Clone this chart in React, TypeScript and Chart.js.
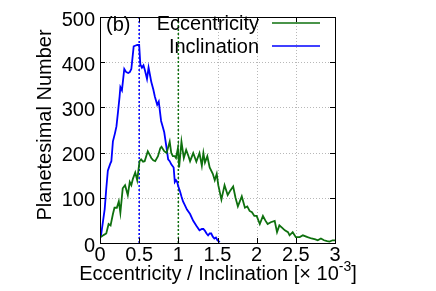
import React, { useEffect, useRef } from "react";
import { Chart, registerables } from "chart.js";

Chart.register(...registerables);

// Histogram of eccentricity (x 1e-3)
const eccX = [0.01,0.05,0.08,0.11,0.135,0.165,0.185,0.215,0.24,0.26,0.29,0.32,0.355,0.38,0.40,0.42,0.45,0.475,0.505,0.525,0.55,0.57,0.61,0.635,0.655,0.68,0.705,0.74,0.77,0.785,0.82,0.85,0.89,0.91,0.93,0.955,0.97,0.995,1.01,1.04,1.07,1.10,1.13,1.15,1.19,1.23,1.27,1.30,1.32,1.34,1.37,1.40,1.44,1.465,1.49,1.51,1.55,1.59,1.63,1.66,1.70,1.73,1.76,1.81,1.85,1.88,1.91,1.94,1.97,2.00,2.04,2.08,2.11,2.14,2.18,2.23,2.26,2.29,2.33,2.36,2.40,2.42,2.46,2.50,2.55,2.59,2.65,2.70,2.75,2.78,2.82,2.86,2.90,2.93,2.97,3.0];
const eccY = [13,18,21,42,39,64,78,78,92,67,121,128,106,135,128,142,156,139,181,185,180,181,203,195,188,183,181,192,210,213,203,199,224,199,192,192,188,210,167,224,188,206,192,181,199,180,199,171,199,178,192,167,153,139,153,128,96,128,106,115,125,100,81,103,78,81,71,68,60,60,42,60,50,42,46,49,24,39,33,28,24,17,24,13,13,17,13,10,8,6,10,6,4,3,6,6];

// Histogram of inclination (x 1e-3)
const incX = [0.01,0.04,0.06,0.08,0.10,0.13,0.145,0.165,0.19,0.21,0.23,0.25,0.26,0.28,0.31,0.335,0.36,0.38,0.40,0.43,0.455,0.475,0.50,0.515,0.535,0.555,0.575,0.60,0.62,0.64,0.655,0.68,0.70,0.73,0.75,0.78,0.80,0.82,0.85,0.87,0.89,0.91,0.94,0.955,0.97,0.985,1.00,1.02,1.04,1.06,1.08,1.11,1.15,1.19,1.23,1.27,1.30,1.32,1.34,1.36,1.38,1.40,1.42,1.44,1.46,1.48,1.50,1.53];
const incY = [13,50,75,120,160,175,181,225,242,258,290,324,345,338,385,378,376,378,385,435,437,438,438,395,388,393,381,363,388,370,356,340,324,306,313,270,258,245,210,185,181,174,167,135,139,135,125,115,103,92,85,74,64,49,38,28,31,31,27,21,17,21,21,14,10,12,6,2];

// Mean values (vertical dotted markers)
const eccMean = 1.0;
const incMean = 0.5;

const xTicks = [0, 0.5, 1, 1.5, 2, 2.5, 3];
const yTicks = [0, 100, 200, 300, 400, 500];

const seriesNames = ["Eccentricity", "Inclination"];
const panelTag = "(b)";
const xTitleMain = "Eccentricity / Inclination [\u00d7 10";
const xTitleSup = "-3";
const xTitleEnd = "]";
const yTitle = "Planetesimal Number";

const GREEN = "#0e700e";
const BLUE = "#0000ff";
const FONT = "'Liberation Sans', Arial, sans-serif";

const decor = {
  id: "decor",
  beforeDatasetsDraw(chart: any) {
    const { ctx, chartArea: a, scales } = chart;
    ctx.save();
    ctx.strokeStyle = "#b8b8b8";
    ctx.lineWidth = 1;
    ctx.setLineDash([1, 2]);
    xTicks.forEach((v) => {
      const px = Math.round(scales.x.getPixelForValue(v)) + 0.5;
      if (v === 0 || v === 3) return;
      ctx.beginPath();
      ctx.moveTo(px, a.top);
      ctx.lineTo(px, a.bottom);
      ctx.stroke();
    });
    yTicks.forEach((v) => {
      const py = Math.round(scales.y.getPixelForValue(v)) + 0.5;
      if (v === 0 || v === 500) return;
      ctx.beginPath();
      ctx.moveTo(a.left, py);
      ctx.lineTo(a.right, py);
      ctx.stroke();
    });
    ctx.restore();
  },
  afterDraw(chart: any) {
    const { ctx, chartArea: a, scales } = chart;
    ctx.save();
    ctx.strokeStyle = "#000";
    ctx.lineWidth = 1;
    ctx.setLineDash([]);
    ctx.strokeRect(Math.round(a.left) + 0.5, Math.round(a.top) + 0.5, Math.round(a.right - a.left), Math.round(a.bottom - a.top));
    const tl = 5;
    xTicks.forEach((v) => {
      const px = Math.round(scales.x.getPixelForValue(v)) + 0.5;
      ctx.beginPath();
      ctx.moveTo(px, a.bottom);
      ctx.lineTo(px, a.bottom - tl);
      ctx.moveTo(px, a.top);
      ctx.lineTo(px, a.top + tl);
      ctx.stroke();
    });
    yTicks.forEach((v) => {
      const py = Math.round(scales.y.getPixelForValue(v)) + 0.5;
      ctx.beginPath();
      ctx.moveTo(a.left, py);
      ctx.lineTo(a.left + tl, py);
      ctx.moveTo(a.right, py);
      ctx.lineTo(a.right - tl, py);
      ctx.stroke();
    });
    ctx.fillStyle = "#000";
    ctx.font = `20px ${FONT}`;
    ctx.textBaseline = "middle";
    ctx.textAlign = "left";
    ctx.fillText(panelTag, 106, 25);
    const colors = [GREEN, BLUE];
    const ys = [23, 46];
    seriesNames.forEach((n, i) => {
      ctx.textAlign = "right";
      ctx.fillStyle = "#000";
      ctx.fillText(n, 259, ys[i] + 1);
      ctx.strokeStyle = colors[i];
      ctx.lineWidth = 1.5;
      ctx.beginPath();
      ctx.moveTo(272, ys[i]);
      ctx.lineTo(320, ys[i]);
      ctx.stroke();
    });
    ctx.fillStyle = "#000";
    ctx.textAlign = "left";
    ctx.textBaseline = "alphabetic";
    ctx.font = `20px ${FONT}`;
    const w1 = ctx.measureText(xTitleMain).width;
    const w3 = ctx.measureText(xTitleEnd).width;
    ctx.font = `14px ${FONT}`;
    const w2 = ctx.measureText(xTitleSup).width;
    const total = w1 + w2 + w3;
    const x0 = 218 - total / 2;
    const base = 280;
    ctx.font = `20px ${FONT}`;
    ctx.fillText(xTitleMain, x0, base);
    ctx.font = `14px ${FONT}`;
    ctx.fillText(xTitleSup, x0 + w1, base - 9);
    ctx.font = `20px ${FONT}`;
    ctx.fillText(xTitleEnd, x0 + w1 + w2, base);
    ctx.save();
    ctx.translate(45, 125);
    ctx.rotate(-Math.PI / 2);
    ctx.textAlign = "center";
    ctx.textBaseline = "middle";
    ctx.fillText(yTitle, 0, 0);
    ctx.restore();
    ctx.restore();
  },
};

export default function App() {
  const ref = useRef<HTMLCanvasElement>(null);
  useEffect(() => {
    if (!ref.current) return;
    const ecc = eccX.map((x, i) => ({ x, y: eccY[i] }));
    const inc = incX.map((x, i) => ({ x, y: incY[i] }));
    const chart = new Chart(ref.current, {
      type: "line",
      data: {
        datasets: [
          { label: seriesNames[0], data: ecc, borderColor: GREEN, borderWidth: 1.8, pointRadius: 0, tension: 0, fill: false },
          { label: seriesNames[1], data: inc, borderColor: BLUE, borderWidth: 1.8, pointRadius: 0, tension: 0, fill: false },
          { label: "incMean", data: [{ x: incMean, y: 0 }, { x: incMean, y: 500 }], borderColor: BLUE, borderWidth: 1.5, borderDash: [2, 2], pointRadius: 0, fill: false },
          { label: "eccMean", data: [{ x: eccMean, y: 0 }, { x: eccMean, y: 500 }], borderColor: GREEN, borderWidth: 1.5, borderDash: [2, 2], pointRadius: 0, fill: false },
        ],
      },
      options: {
        responsive: false,
        animation: false,
        layout: { padding: { left: 0, right: 101, top: 9, bottom: 0 } },
        plugins: { legend: { display: false }, tooltip: { enabled: false } },
        scales: {
          x: {
            type: "linear",
            min: 0,
            max: 3,
            afterFit: (s: any) => { s.height = 48; },
            afterBuildTicks: (s: any) => { s.ticks = xTicks.map((v) => ({ value: v })); },
            grid: { display: false, drawTicks: false },
            border: { display: false },
            ticks: { padding: 0, color: "#000", font: { size: 20, family: FONT }, maxRotation: 0, autoSkip: false, callback: (v: any) => String(v) },
          },
          y: {
            type: "linear",
            min: 0,
            max: 500,
            afterFit: (s: any) => { s.width = 100; },
            afterBuildTicks: (s: any) => { s.ticks = yTicks.map((v) => ({ value: v })); },
            grid: { display: false, drawTicks: false },
            border: { display: false },
            ticks: { padding: 5, labelOffset: 3, color: "#000", font: { size: 20, family: FONT }, callback: (v: any) => String(v) },
          },
        },
      },
      plugins: [decor],
    });
    return () => chart.destroy();
  }, []);
  return (
    <div style={{ position: "fixed", left: 0, top: 0, width: 436, height: 291, background: "#fff" }}>
      <canvas ref={ref} width={436} height={291} style={{ width: 436, height: 291 }} />
    </div>
  );
}
